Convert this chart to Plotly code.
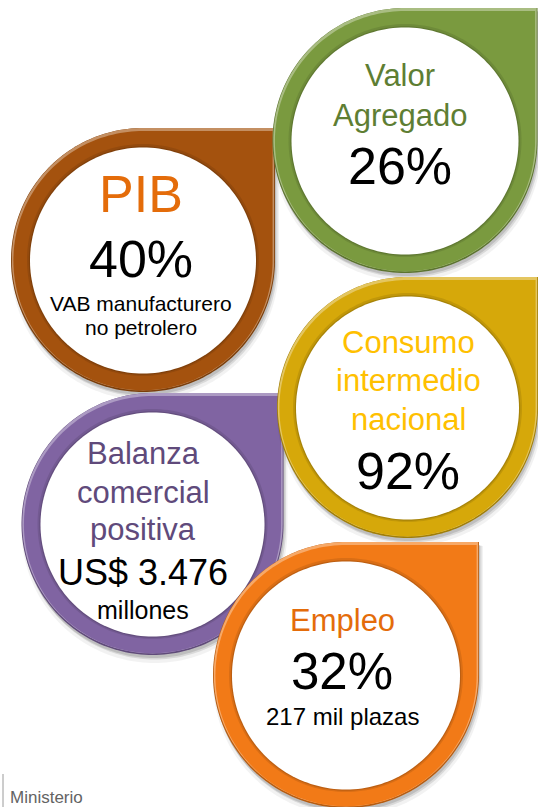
import numpy as np
import plotly.graph_objects as go

W, H = 538, 807

# ---- content (drawing order: PIB, Valor Agregado, Balanza, Consumo, Empleo) ----
titles = ["PIB", "Valor<br>Agregado", "Balanza<br>comercial<br>positiva",
          "Consumo<br>intermedio<br>nacional", "Empleo"]
values = ["40%", "26%", "US$ 3.476", "92%", "32%"]
notes = ["VAB manufacturero<br>no petrolero", "", "millones", "", "217 mil plazas"]
footer = "Ministerio"

# ---- styles ----
ring_colors = ["#A4520E", "#7A9A3F", "#8064A2", "#D6A80A", "#F27A17"]
title_colors = ["#E46C0A", "#5E7E33", "#604A7B", "#FFC000", "#E46C0A"]
FONT = "Liberation Sans, Arial, Helvetica, sans-serif"

# ---- layout geometry (pixel coordinates) ----
shapes_geo = [  # cx, cy, r
    (143.0, 260.0, 132.0),
    (405.0, 140.5, 132.5),
    (152.5, 524.0, 131.0),
    (407.5, 407.5, 130.5),
    (346.0, 675.0, 133.0),
]
ring_width = 19
text_x = [141, 400, 143, 408, 342]
title_sizes = [52, 31, 31, 31, 31]
value_sizes = [52, 52, 36, 52, 51]
note_sizes = [21, 0, 25, 0, 24]
title_line_y = [[194], [75, 115], [453, 492, 529], [342, 380, 419], [620]]
value_y = [259, 166, 572, 471, 671]
note_line_y = [[303, 327], [], [610], [], [716]]


def hex_to_rgb(h):
    h = h.lstrip("#")
    return tuple(int(h[i:i + 2], 16) for i in (0, 2, 4))


def shade(h, f):
    r, g, b = hex_to_rgb(h)
    if f < 0:
        k = 1 + f
        r, g, b = r * k, g * k, b * k
    else:
        r, g, b = r + (255 - r) * f, g + (255 - g) * f, b + (255 - b) * f
    return "rgb(%d,%d,%d)" % (round(r), round(g), round(b))


def teardrop(cx, cy, r, n=160):
    t = np.linspace(0, 1.5 * np.pi, n)
    pts = [(cx, cy - r), (cx + r, cy - r)] + list(zip(cx + r * np.cos(t), cy + r * np.sin(t)))
    return "M " + " L ".join(f"{x:.2f},{y:.2f}" for x, y in pts) + " Z"


def circle(cx, cy, r, n=180):
    t = np.linspace(0, 2 * np.pi, n, endpoint=False)
    pts = list(zip(cx + r * np.cos(t), cy + r * np.sin(t)))
    return "M " + " L ".join(f"{x:.2f},{y:.2f}" for x, y in pts) + " Z"


fig = go.Figure()


def add_path(path, fill, line_color=None, line_width=0):
    fig.add_shape(type="path", path=path, xref="x", yref="y",
                  fillcolor=fill,
                  line=dict(color=line_color or "rgba(0,0,0,0)", width=line_width),
                  layer="above")


for i, (cx, cy, r) in enumerate(shapes_geo):
    base = ring_colors[i]
    # soft drop shadow
    add_path(teardrop(cx + 2, cy + 6, r + 2), "rgba(0,0,0,0.05)")
    add_path(teardrop(cx + 2, cy + 4, r + 0.5), "rgba(0,0,0,0.10)")
    add_path(teardrop(cx + 1, cy + 3, r), "rgba(0,0,0,0.12)")
    # bevelled ring: dark base, light top edge, main colour
    add_path(teardrop(cx, cy, r), shade(base, -0.25))
    add_path(teardrop(cx, cy - 0.8, r - 0.8), shade(base, 0.35))
    add_path(teardrop(cx, cy + 0.6, r - 2.4), base)
    # inner bevel and white disc
    rin = r - ring_width
    add_path(circle(cx, cy, rin + 3), shade(base, -0.10))
    add_path(circle(cx, cy + 0.5, rin + 1.2), shade(base, -0.22))
    add_path(circle(cx, cy + 0.5, rin), "#FFFFFF")

# ---- texts ----
for i in range(len(titles)):
    x = text_x[i]
    for line, y in zip(titles[i].split("<br>"), title_line_y[i]):
        fig.add_annotation(x=x, y=y, xref="x", yref="y", text=line, showarrow=False,
                           xanchor="center", yanchor="middle",
                           font=dict(family=FONT, size=title_sizes[i], color=title_colors[i]))
    fig.add_annotation(x=x, y=value_y[i], xref="x", yref="y", text=values[i], showarrow=False,
                       xanchor="center", yanchor="middle",
                       font=dict(family=FONT, size=value_sizes[i], color="#000000"))
    if notes[i]:
        for line, y in zip(notes[i].split("<br>"), note_line_y[i]):
            fig.add_annotation(x=x, y=y, xref="x", yref="y", text=line, showarrow=False,
                               xanchor="center", yanchor="middle",
                               font=dict(family=FONT, size=note_sizes[i], color="#000000"))

# footer
fig.add_shape(type="line", x0=3, x1=3, y0=774, y1=807, xref="x", yref="y",
              line=dict(color="#9A9A9A", width=1), layer="above")
fig.add_annotation(x=8, y=797, xref="x", yref="y", text=footer, showarrow=False,
                   xanchor="left", yanchor="middle",
                   font=dict(family=FONT, size=17, color="#636363"))

fig.update_layout(
    width=W, height=H,
    margin=dict(l=0, r=0, t=0, b=0),
    paper_bgcolor="white", plot_bgcolor="white",
    showlegend=False,
    xaxis=dict(range=[0, W], visible=False, fixedrange=True),
    yaxis=dict(range=[H, 0], visible=False, fixedrange=True),
)

fig.write_html("out.html", config={"displayModeBar": False},
               post_script="document.body.style.margin='0';document.body.style.overflow='hidden';")
